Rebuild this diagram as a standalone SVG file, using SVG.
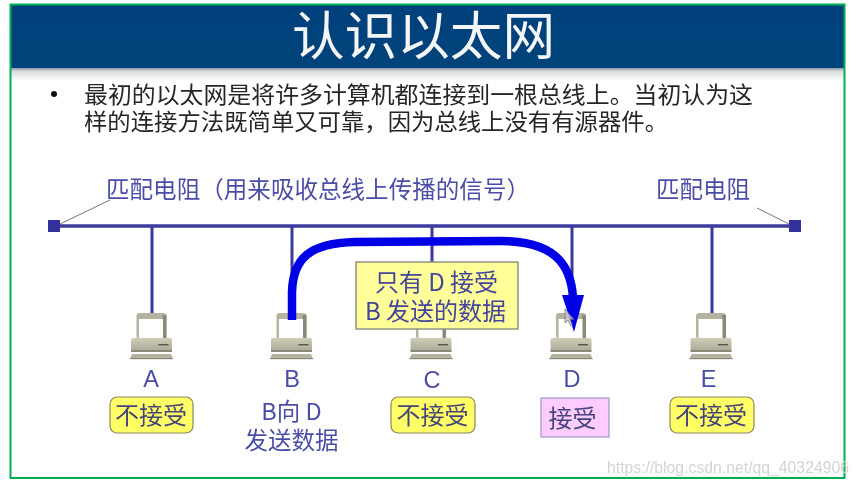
<svg xmlns="http://www.w3.org/2000/svg" xmlns:xlink="http://www.w3.org/1999/xlink" width="859" height="485" viewBox="0 0 859 485">
<style>
text{font-family:"Noto Sans CJK SC","Liberation Sans",sans-serif}
.lat{font-family:"Liberation Sans","Noto Sans CJK SC",sans-serif}
.blue{fill:#4a4ea6;font-size:23.5px;text-anchor:middle}
.dark{fill:#262626;font-size:23px}
.tag{fill:#44447a;font-size:24px;text-anchor:middle}
.note{fill:#44449a;font-size:24px;text-anchor:middle}
.no{fill:#ffff66;stroke:#8a8660;stroke-width:1.2}
.bus{stroke:#3a3a9e;fill:none}
.leader{stroke:#777;stroke-width:1;fill:none}
</style>
<defs>
<filter id="soft" x="0" y="0" width="100%" height="100%"><feGaussianBlur stdDeviation="0.45"/></filter>
<linearGradient id="fade" x1="0" y1="0" x2="0" y2="1"><stop offset="0" stop-color="#8a9cae"/><stop offset="0.25" stop-color="#d8dadc"/><stop offset="1" stop-color="#ffffff"/></linearGradient>
<linearGradient id="head" x1="0" y1="0" x2="0" y2="1"><stop offset="0" stop-color="#03417b"/><stop offset="1" stop-color="#05437a"/></linearGradient>
<linearGradient id="case" x1="0" y1="0" x2="0" y2="1"><stop offset="0" stop-color="#cfcdb8"/><stop offset="1" stop-color="#a9a793"/></linearGradient>
<g id="pc">
<rect x="-15" y="0" width="30" height="26" rx="3" fill="#b5b3a0"/>
<rect x="11" y="2" width="4" height="24" fill="#8a897b"/>
<rect x="-12.5" y="6" width="24" height="19" fill="#ffffff"/>
<rect x="-20.5" y="25" width="41" height="14" rx="2" fill="url(#case)"/>
<rect x="-20.5" y="37" width="41" height="2" fill="#8a897b"/>
<rect x="7" y="31" width="10" height="1.4" fill="#55544a"/>
<path d="M-19.5 41H19.5L21.5 46H-21.5Z" fill="#b5b3a0"/>
<rect x="-21.5" y="45" width="43" height="1.2" fill="#8a897b"/>
</g>
</defs>
<rect width="859" height="485" fill="#ffffff"/>
<g filter="url(#soft)">
<g id="header">
<rect x="11" y="5" width="833" height="63" fill="url(#head)"/>
<rect x="11" y="68" width="833" height="13" fill="url(#fade)"/>
<text x="292" y="55" fill="#f4f6f8" font-size="52" textLength="263" lengthAdjust="spacingAndGlyphs">认识以太网</text>
</g>
<g id="body-text">
<circle cx="54" cy="94" r="3" fill="#111"/>
<text class="dark" x="84" y="103" textLength="669" lengthAdjust="spacingAndGlyphs">最初的以太网是将许多计算机都连接到一根总线上。当初认为这</text>
<text class="dark" x="84" y="130" textLength="584" lengthAdjust="spacingAndGlyphs">样的连接方法既简单又可靠，因为总线上没有有源器件。</text>
</g>
<g id="connectors">
<path class="bus" stroke-width="3.4" d="M54 226H795"/>
<path class="bus" stroke-width="3" d="M152 226V314M292 226V314M432 226V263M572 226V300M712 226V314"/>
<path class="leader" d="M60 224L110 200M789 224L757 208"/>
</g>
<g id="terminator-left"><rect x="48" y="220" width="12" height="12" fill="#33339a"/></g>
<g id="terminator-right"><rect x="789" y="220" width="12" height="12" fill="#33339a"/></g>
<g id="label-left"><text class="blue" x="318" y="198" textLength="424" lengthAdjust="spacingAndGlyphs">匹配电阻（用来吸收总线上传播的信号）</text></g>
<g id="label-right"><text class="blue" x="703" y="198">匹配电阻</text></g>
<g id="node-a">
<use xlink:href="#pc" href="#pc" x="151.5" y="313"/>
<text class="blue lat" x="151" y="387">A</text>
<rect class="no" x="110" y="397" width="83" height="36" rx="7"/>
<text class="tag" x="151" y="424">不接受</text>
</g>
<g id="node-b">
<use xlink:href="#pc" href="#pc" x="291.5" y="313"/>
<text class="blue lat" x="292" y="387">B</text>
<text class="blue" x="291.5" y="420">B向 D</text>
<text class="blue" x="291.5" y="449">发送数据</text>
</g>
<g id="node-c">
<use xlink:href="#pc" href="#pc" x="431" y="313"/>
<text class="blue lat" x="432" y="388">C</text>
<rect class="no" x="391" y="397" width="84" height="36" rx="7"/>
<text class="tag" x="432.5" y="424">不接受</text>
</g>
<g id="node-d">
<use xlink:href="#pc" href="#pc" x="571" y="313"/>
<text class="blue lat" x="572" y="387">D</text>
<rect x="541" y="398" width="68" height="39" fill="#ffccff" stroke="#9a9ac8" stroke-width="1.2"/>
<text class="tag" x="572.5" y="427">接受</text>
</g>
<g id="node-e">
<use xlink:href="#pc" href="#pc" x="711" y="313"/>
<text class="blue lat" x="708.5" y="387">E</text>
<rect class="no" x="670" y="397" width="84" height="36" rx="7"/>
<text class="tag" x="711" y="424">不接受</text>
</g>
<g id="note">
<rect x="356" y="262" width="162" height="67" fill="#ffff99" stroke="#8a8a80" stroke-width="1.4"/>
<text class="note" x="436.5" y="291" textLength="123" lengthAdjust="spacing">只有 D 接受</text>
<text class="note" x="435.5" y="320" textLength="141" lengthAdjust="spacing">B 发送的数据</text>
</g>
<g id="transfer-arrow">
<path d="M292 320V292C293 258 310 243 355 242L500 241C552 241 571 262 573 298" fill="none" stroke="#0000e6" stroke-width="8.5"/>
<path d="M562 295H584L574 332Z" fill="#0000e6"/>
</g>
<path id="cursor" d="M565 309V323L568 320L570.5 325.5L572.5 324.5L570 319.5H574Z" fill="#c8c8d0" fill-opacity="0.75" stroke="#666" stroke-width="0.7"/>
</g>
<rect id="frame" x="10.5" y="4.5" width="834" height="473.5" fill="none" stroke="#00b050" stroke-width="2"/>
<text id="watermark" class="lat" x="607" y="473" font-size="17" fill="#d4d4d4" textLength="242" lengthAdjust="spacingAndGlyphs">https://blog.csdn.net/qq_40324906</text>
</svg>
